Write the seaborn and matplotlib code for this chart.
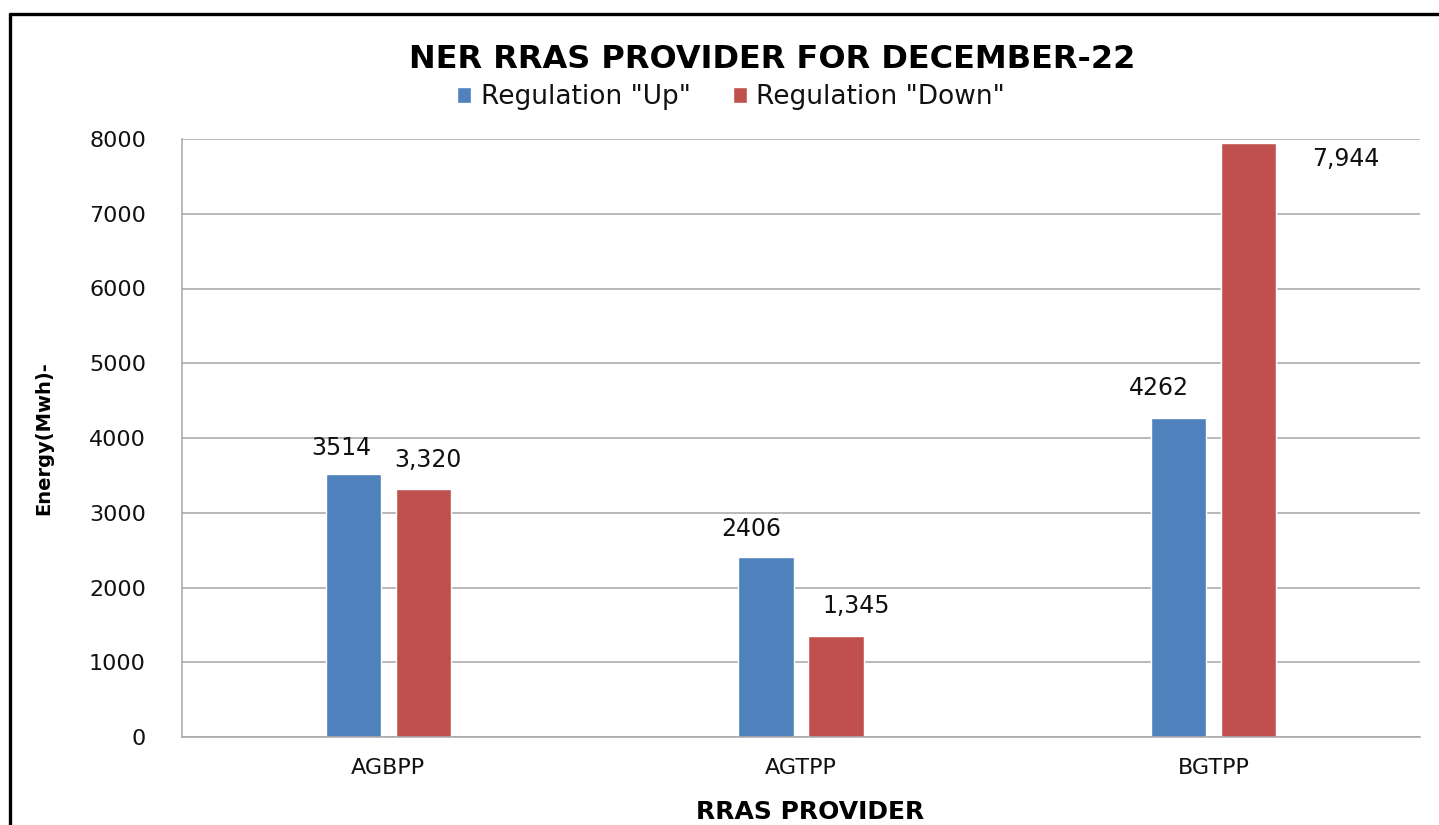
import seaborn as sns
import pandas as pd
import numpy as np
import matplotlib.pyplot as plt
from matplotlib.lines import Line2D

providers = ['AGBPP', 'AGTPP', 'BGTPP']
series = ['Regulation "Up"', 'Regulation "Down"']
reg_up = [3514, 2406, 4262]
reg_down = [3320, 1345, 7944]
yticks = [0, 1000, 2000, 3000, 4000, 5000, 6000, 7000, 8000]

colors = ['#4F81BD', '#C0504D']
# label offsets in pixels from the bar top (Excel placed them by hand)
label_off = [[(-12, 26), (-15, 28), (-20, 30)],
             [(5, 29), (20, 30), (97, -16)]]
label_fmt = ['{:.0f}', '{:,.0f}']

df = pd.DataFrame({'provider': providers * 2,
                   'series': [series[0]] * 3 + [series[1]] * 3,
                   'energy': reg_up + reg_down})

sns.set_style('white')
plt.rcParams['font.family'] = ['DejaVu Sans']
plt.rcParams['text.color'] = 'black'

fig = plt.figure(figsize=(14.39, 8.25), dpi=100)
ax = fig.add_axes([182/1439, 1 - 737/825, (1420 - 182)/1439, (737 - 139)/825])

sns.barplot(data=df, x='provider', y='energy', hue='series', hue_order=series,
            palette=colors, width=0.34, gap=0.21, saturation=1, ax=ax)

ax.set_ylim(0, 8000)
ax.set_xlim(-0.5, 2.5)
ax.set_yticks(yticks)
ax.yaxis.grid(True, color='#A6A6A6', lw=1.1)
ax.set_axisbelow(True)
for s in ['top', 'right']:
    ax.spines[s].set_visible(False)
for s in ['left', 'bottom']:
    ax.spines[s].set_color('#A6A6A6')
    ax.spines[s].set_linewidth(1.1)
ax.tick_params(axis='y', length=0, pad=26, labelsize=16, labelcolor='#111111')
ax.tick_params(axis='x', length=0, pad=15, labelsize=16, labelcolor='#111111')
ax.set_xlabel('')
ax.set_ylabel('')

for i, cont in enumerate(ax.containers):
    for j, bar in enumerate(cont):
        h = bar.get_height()
        ax.annotate(label_fmt[i].format(h), (bar.get_x() + bar.get_width() / 2, h),
                    xytext=label_off[i][j], textcoords='offset pixels',
                    ha='center', va='center', fontsize=17, color='#111111')

handles, labels = ax.get_legend_handles_labels()
ax.legend(handles, labels, loc='center', bbox_to_anchor=(0.508, 1 - 97/825),
          bbox_transform=fig.transFigure, ncol=2, frameon=False, fontsize=19,
          handlelength=0.55, handleheight=0.55, handletextpad=0.35, columnspacing=1.6,
          labelcolor='#111111')

fig.text(772/1439, 1 - 60/825, 'NER RRAS PROVIDER FOR DECEMBER-22',
         ha='center', va='center', fontsize=23, fontweight='bold', color='black')
fig.text(810/1439, 1 - 812/825, 'RRAS PROVIDER', ha='center', va='center',
         fontsize=18, fontweight='bold', color='black')
fig.text(44/1439, 1 - 438/825, 'Energy(Mwh)-', ha='center', va='center',
         rotation=90, fontsize=14, fontweight='bold', color='black')

# chart frame (only the left and top edges fall inside the image)
fig.add_artist(Line2D([10/1439, 10/1439], [0, 1 - 14/825], color='black', lw=2.4,
                      transform=fig.transFigure))
fig.add_artist(Line2D([10/1439, 1], [1 - 14/825, 1 - 14/825], color='black', lw=2.4,
                      transform=fig.transFigure))

fig.savefig('out.png', dpi=100)
